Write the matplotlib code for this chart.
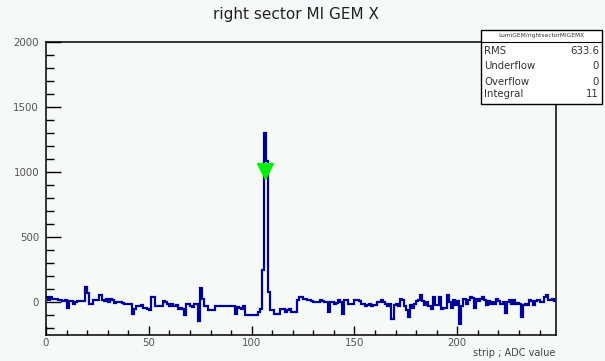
import matplotlib.pyplot as plt
import numpy as np
from matplotlib.ticker import MultipleLocator
from matplotlib.patches import Rectangle

# strip histogram contents, one value per strip (0..247)
adc_0_49 = [40, 20, 40, 30, 30, 25, 15, 15, 10, 15,
            -40, 10, 10, -10, 5, 10, 10, 10, 10, 120,
            70, -10, -10, 15, 20, 15, 60, 20, 10, 30,
            5, 25, 20, -5, 5, 5, 5, -5, -10, -10,
            -15, -15, -90, -50, -25, -30, -20, -40, -45, -50]
adc_50_99 = [-60, 40, 40, -30, -30, -30, -30, 10, 5, -10,
             -25, -15, -30, -20, -50, -45, -50, -100, -10, -10,
             -30, -35, -10, -15, -140, 110, 30, -30, -30, -60,
             -60, -55, -25, -25, -30, -30, -30, -30, -30, -30,
             -30, -30, -90, -35, -45, -50, -30, -100, -100, -100]
adc_100_149 = [-100, -100, -95, -70, -50, 250, 1300, 1085, 80, -60,
               -60, -85, -85, -85, -50, -50, -70, -55, -50, -70,
               -70, -70, 15, 40, 45, 30, 30, 20, 15, 10,
               5, 0, 5, 15, 10, 5, 5, -70, 5, 0,
               -10, -5, 15, 5, -90, 15, 15, -10, -10, -10]
adc_150_199 = [15, 15, 10, -10, -10, -30, -20, -10, -25, -20,
               -20, 0, 5, 15, 5, -15, -30, -10, -125, -20,
               -10, -30, 25, 20, -30, -60, -110, -20, -40, -10,
               10, 15, 55, 10, -20, 5, -30, -50, 40, -20,
               -20, 40, -50, -45, -40, 55, 0, -40, 20, -20]
adc_200_247 = [10, -165, -30, 25, -10, 20, 40, 35, -40, 25,
               10, 30, 45, 20, -20, 10, -10, 5, -15, 30,
               10, -15, 0, -80, 0, 15, -10, 15, -10, -5,
               -10, -110, -20, -15, -20, 15, 10, -20, 10, 15,
               0, 5, 40, 55, 20, 15, 30, 10]

peak_x = [106.5]
peak_y = [1010]

stats_name = "LumiGEM/rightsectorMIGEMX"
stats_rows = [("RMS", "633.6"), ("Underflow", "0"), ("Overflow", "0"), ("Integral", "11")]

W, H = 605, 361
bg = '#f5faf7'


def px(x, y):
    # pixel position (from top-left) to figure fraction
    return x / W, 1 - y / H


def main():
    values = np.array(adc_0_49 + adc_50_99 + adc_100_149 + adc_150_199 + adc_200_247)
    edges = np.arange(len(values) + 1)

    fig = plt.figure(figsize=(W / 100, H / 100), dpi=100, facecolor=bg)
    ax = fig.add_axes([46 / W, 1 - 335 / H, 510 / W, 293 / H], facecolor=bg)

    ax.stairs(values, edges, baseline=None, color='#000099', lw=1.6)
    ax.plot(peak_x, peak_y, 'v', color='#00ee00', markersize=11, mec='#00ee00')

    ax.set_xlim(0, len(values))
    ax.set_ylim(-250, 2000)

    ax.xaxis.set_major_locator(MultipleLocator(50))
    ax.xaxis.set_minor_locator(MultipleLocator(10))
    ax.yaxis.set_major_locator(MultipleLocator(500))
    ax.yaxis.set_minor_locator(MultipleLocator(100))
    ax.tick_params(axis='x', which='major', direction='in', length=6.5, width=1,
                   labelsize=7.4, labelcolor='#555555', pad=2)
    ax.tick_params(axis='x', which='minor', direction='in', length=3.3, width=1)
    ax.tick_params(axis='y', which='major', direction='in', length=11, width=1,
                   labelsize=7.4, labelcolor='#555555', pad=5)
    ax.tick_params(axis='y', which='minor', direction='in', length=5.5, width=1)
    for s in ax.spines.values():
        s.set_linewidth(1.1)

    fig.text(*px(296, 14), "right sector MI GEM X", ha='center', va='center',
             fontsize=11, color='#222222')
    fig.text(*px(555, 353), "strip ; ADC value", ha='right', va='center',
             fontsize=7, color='#444444')

    # stats box
    x0, y0, x1, y1 = 481, 30, 602, 104
    fx0, fy1 = px(x0, y1)
    box = Rectangle((fx0, fy1), (x1 - x0) / W, (y1 - y0) / H, transform=fig.transFigure,
                    facecolor='white', edgecolor='black', lw=1, zorder=5)
    fig.add_artist(box)
    fig.add_artist(plt.Line2D([x0 / W, x1 / W], [1 - 42 / H, 1 - 42 / H],
                              transform=fig.transFigure, color='black', lw=0.8, zorder=6))
    fig.text(*px((x0 + x1) / 2, 36), stats_name, ha='center', va='center',
             fontsize=4.2, color='#333333', zorder=7)
    for (label, val), yy in zip(stats_rows, [51, 66, 82, 94]):
        fig.text(*px(484, yy), label, ha='left', va='center', fontsize=7.3,
                 color='#333333', zorder=7)
        fig.text(*px(599, yy), val, ha='right', va='center', fontsize=7.3,
                 color='#333333', zorder=7)

    fig.savefig("out.png", dpi=100, facecolor=bg)


if __name__ == "__main__":
    main()
